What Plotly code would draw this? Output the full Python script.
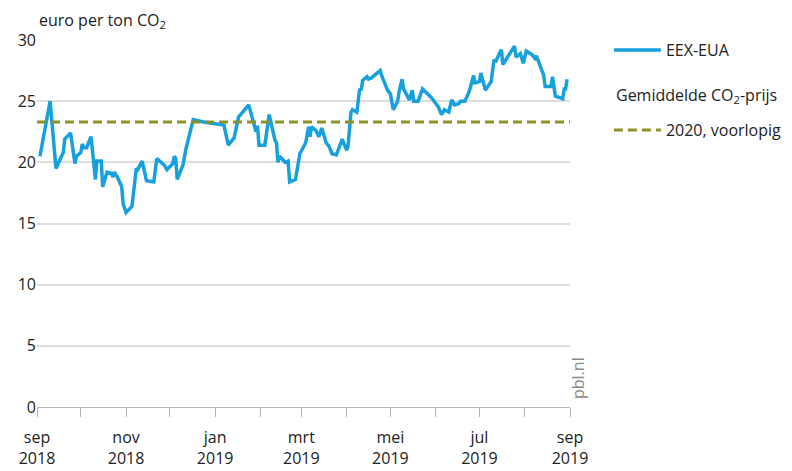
import plotly.graph_objects as go

dates = [
    "2018-09-03", "2018-09-10", "2018-09-14", "2018-09-17", "2018-09-19", "2018-09-20",
    "2018-09-24", "2018-09-27", "2018-09-28", "2018-10-01", "2018-10-02", "2018-10-03",
    "2018-10-05", "2018-10-08", "2018-10-11", "2018-10-12", "2018-10-15", "2018-10-16",
    "2018-10-19", "2018-10-22", "2018-10-23", "2018-10-24", "2018-10-26", "2018-10-29",
    "2018-10-30", "2018-11-01", "2018-11-05", "2018-11-08", "2018-11-09", "2018-11-12",
    "2018-11-15", "2018-11-20", "2018-11-22", "2018-11-26", "2018-11-27", "2018-11-29",
    "2018-12-03", "2018-12-04", "2018-12-05", "2018-12-06", "2018-12-10", "2018-12-12",
    "2018-12-17", "2018-12-24", "2019-01-07", "2019-01-10", "2019-01-14", "2019-01-17",
    "2019-01-24", "2019-01-29", "2019-01-30", "2019-01-31", "2019-02-04", "2019-02-07",
    "2019-02-11", "2019-02-12", "2019-02-13", "2019-02-14", "2019-02-18", "2019-02-20",
    "2019-02-21", "2019-02-25", "2019-02-28", "2019-03-04", "2019-03-05", "2019-03-06",
    "2019-03-07", "2019-03-08", "2019-03-11", "2019-03-13", "2019-03-15", "2019-03-18",
    "2019-03-20", "2019-03-22", "2019-03-25", "2019-03-27", "2019-03-29", "2019-04-01",
    "2019-04-02", "2019-04-04", "2019-04-05", "2019-04-08", "2019-04-10", "2019-04-11",
    "2019-04-12", "2019-04-15", "2019-04-16", "2019-04-18", "2019-04-24", "2019-04-25",
    "2019-04-29", "2019-05-01", "2019-05-03", "2019-05-06", "2019-05-07", "2019-05-09",
    "2019-05-10", "2019-05-14", "2019-05-16", "2019-05-17", "2019-05-20", "2019-05-23",
    "2019-05-27", "2019-05-29", "2019-06-03", "2019-06-05", "2019-06-07", "2019-06-10",
    "2019-06-12", "2019-06-14", "2019-06-17", "2019-06-18", "2019-06-21", "2019-06-24",
    "2019-06-27", "2019-06-28", "2019-07-01", "2019-07-02", "2019-07-05", "2019-07-09",
    "2019-07-11", "2019-07-12", "2019-07-15", "2019-07-16", "2019-07-17", "2019-07-22",
    "2019-07-25", "2019-07-26", "2019-07-29", "2019-07-31", "2019-08-02", "2019-08-06",
    "2019-08-08", "2019-08-09", "2019-08-12", "2019-08-14", "2019-08-15", "2019-08-19",
    "2019-08-20", "2019-08-22", "2019-08-27", "2019-08-28", "2019-08-29", "2019-08-30",
]
eua = [
    20.5, 25.0, 19.5, 20.2, 20.8, 21.9,
    22.4, 19.9, 20.5, 20.8, 21.5, 21.2,
    21.2, 22.1, 18.6, 20.1, 20.1, 18.0,
    19.2, 19.1, 18.8, 19.2, 18.8, 18.0,
    16.6, 15.9, 16.4, 19.5, 19.4, 20.1,
    18.5, 18.4, 20.3, 19.9, 19.8, 19.4,
    19.9, 20.5, 20.3, 18.6, 19.8, 21.1,
    23.5, 23.3, 23.05, 21.4, 22.0, 23.7,
    24.7, 22.5, 23.0, 21.4, 21.4, 23.9,
    21.8, 21.6, 20.0, 20.5, 20.0, 20.1,
    18.4, 18.6, 20.7, 21.6, 22.2, 22.9,
    22.1, 22.9, 22.6, 22.1, 22.8, 21.6,
    21.3, 20.7, 20.6, 21.3, 21.9, 21.0,
    21.3, 24.1, 24.3, 24.1, 26.0, 25.9,
    26.7, 27.0, 26.8, 26.9, 27.5, 27.1,
    25.9, 25.6, 24.3, 25.0, 25.8, 26.8,
    26.0, 25.1, 25.9, 25.0, 25.0, 26.0,
    25.5, 25.3, 24.5, 23.9, 24.3, 24.1,
    25.1, 24.7, 24.8, 25.0, 25.0, 25.8,
    27.1, 26.5, 26.6, 27.3, 25.9, 26.6,
    28.4, 28.2, 29.0, 29.2, 28.0, 28.9,
    29.5, 28.6, 28.9, 28.1, 29.1, 28.8,
    28.5, 28.7, 27.8, 27.1, 26.2, 26.2,
    27.0, 25.4, 25.2, 26.0, 26.0, 26.8,
]

# Average CO2 price 2020 (provisional)
avg_dates = ["2018-09-01", "2019-09-01"]
avg_value = 23.3

# Axis ticks (labelled every two months, tick marks every month)
label_ticks = ["2018-09-01", "2018-11-01", "2019-01-01", "2019-03-01",
               "2019-05-01", "2019-07-01", "2019-09-01"]
label_texts = ["sep<br>2018", "nov<br>2018", "jan<br>2019", "mrt<br>2019",
               "mei<br>2019", "jul<br>2019", "sep<br>2019"]
y_ticks = [0, 5, 10, 15, 20, 25, 30]

FONT = "Open Sans"
TXT = "#222222"
FS = 16
TICKCOL = "#b5b5b5"

fig = go.Figure()
fig.add_trace(go.Scatter(
    x=dates, y=eua, mode="lines", name="EEX-EUA",
    line=dict(color="#17a1dc", width=3.5),
    legend="legend",
))
fig.add_trace(go.Scatter(
    x=avg_dates, y=[avg_value] * len(avg_dates), mode="lines", name="2020, voorlopig",
    line=dict(color="#8e9226", width=3, dash="9px,5px"),
    legend="legend2",
))

legend_common = dict(
    xanchor="left", yanchor="top",
    font=dict(size=FS, color=TXT, family=FONT),
    itemwidth=47, bgcolor="rgba(0,0,0,0)",
)

# the page adds an 8px body margin, so the figure is sized to fit inside the window
fig.update_layout(
    width=784, height=463,
    margin=dict(l=29, r=222, t=32, b=64, autoexpand=False),
    paper_bgcolor="white", plot_bgcolor="white",
    font=dict(family=FONT, size=FS, color=TXT),
    showlegend=True,
    legend=dict(x=1.073, y=1.019, **legend_common),
    legend2=dict(x=1.073, y=0.801, **legend_common),
    xaxis=dict(
        type="date", automargin=False,
        range=["2018-09-01", "2019-09-01"],
        tickvals=label_ticks, ticktext=label_texts,
        ticks="outside", ticklen=9, tickwidth=1, tickcolor=TICKCOL,
        ticklabelstandoff=7,
        minor=dict(ticks="outside", ticklen=9, tickwidth=1, tickcolor=TICKCOL,
                   dtick="M1", tick0="2018-09-01", showgrid=False),
        showline=True, linecolor=TICKCOL, linewidth=1,
        showgrid=False, zeroline=False,
        tickfont=dict(size=FS, color=TXT, family=FONT),
    ),
    yaxis=dict(
        automargin=False,
        range=[0, 30], tickvals=y_ticks,
        showgrid=True, gridcolor="#dddddd", gridwidth=1.5,
        zeroline=False, showline=False, ticks="",
        tickfont=dict(size=FS, color=TXT, family=FONT),
    ),
    annotations=[
        dict(text="euro per ton CO<sub>2</sub>", xref="paper", yref="paper",
             x=0, y=1, xanchor="left", yanchor="bottom", yshift=6, showarrow=False,
             font=dict(size=FS, color=TXT, family=FONT)),
        dict(text="Gemiddelde CO<sub>2</sub>-prijs", xref="paper", yref="paper",
             x=1.083, y=0.850, xanchor="left", yanchor="middle", showarrow=False,
             font=dict(size=FS, color=TXT, family=FONT)),
        dict(text="pbl.nl", xref="paper", yref="paper", x=1, y=0,
             xanchor="center", yanchor="bottom", xshift=8, yshift=6, showarrow=False,
             textangle=-90, font=dict(size=16, color="#8a8a8a", family=FONT)),
    ],
)

fig.write_html("out.html")
